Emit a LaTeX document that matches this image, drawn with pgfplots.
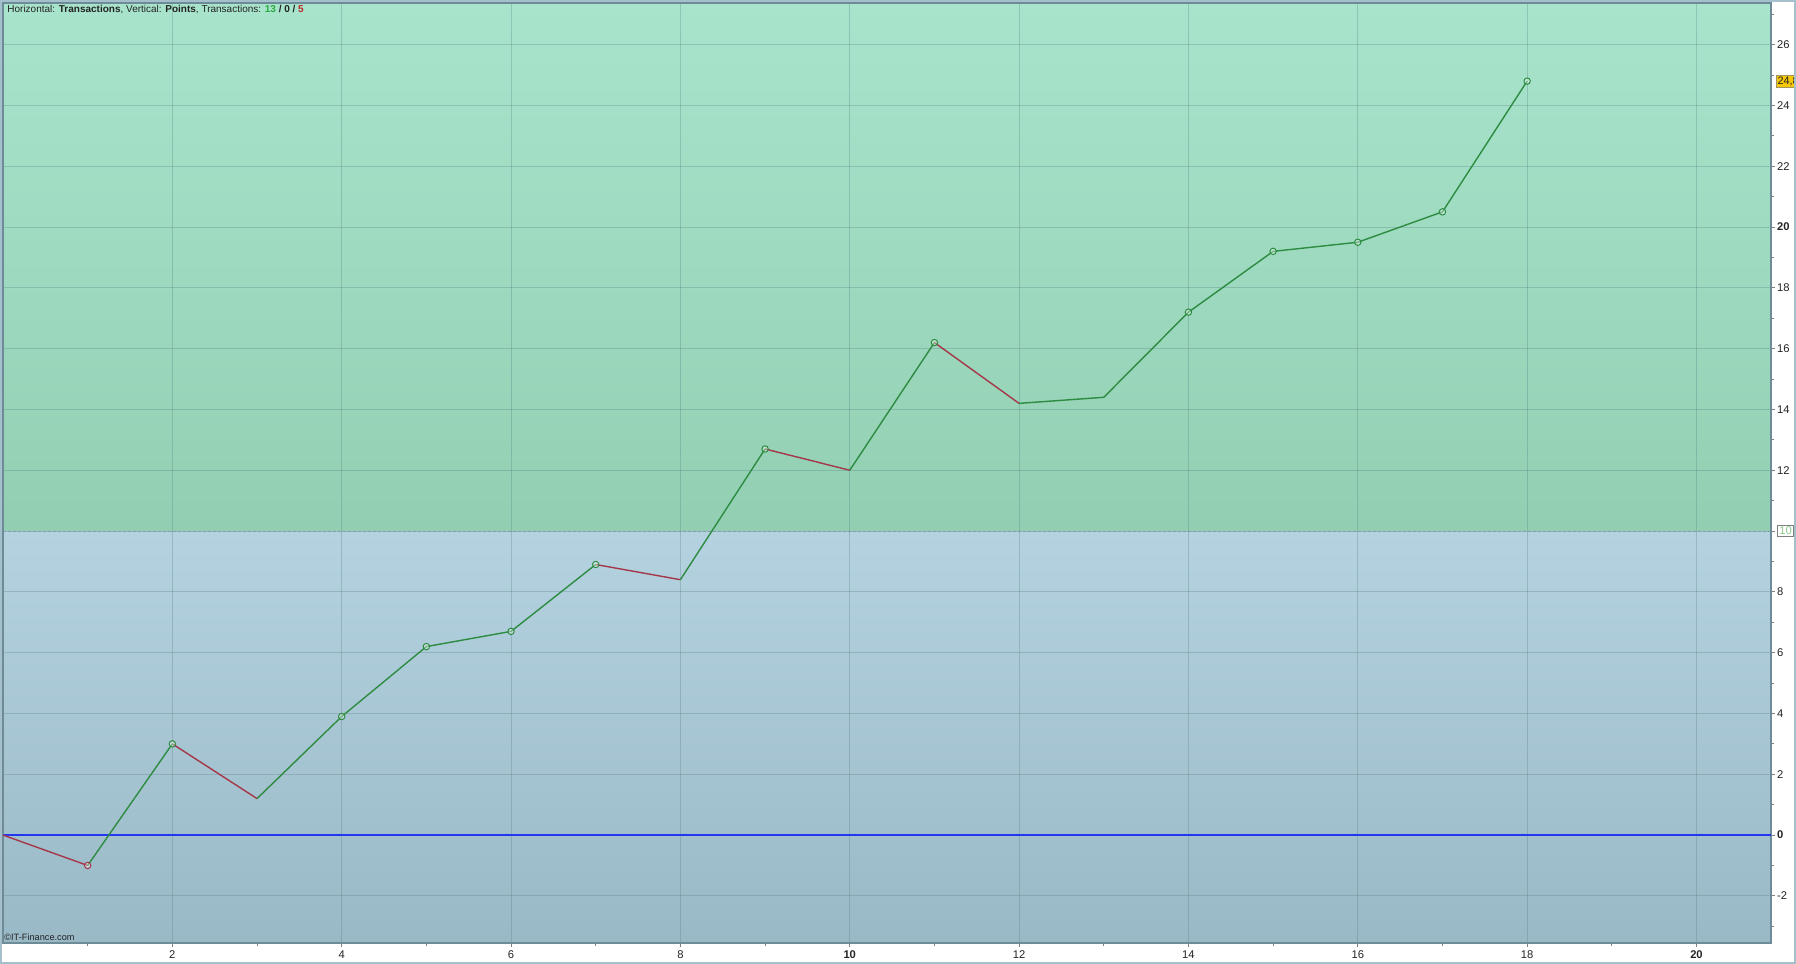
\documentclass[border=0pt]{standalone}
\usepackage{pgfplots}
\pgfplotsset{compat=1.18}
\usepackage{fontspec}
\setmainfont{Liberation Sans}
\definecolor{gtop}{RGB}{168,228,204}
\definecolor{gbot}{RGB}{146,207,178}
\definecolor{btop}{RGB}{180,210,223}
\definecolor{bbot}{RGB}{154,185,198}
\definecolor{gridc}{RGB}{80,115,125}
\definecolor{upc}{RGB}{45,140,65}
\definecolor{dnc}{RGB}{165,55,75}
\definecolor{framec}{RGB}{110,140,152}
\definecolor{borderc}{RGB}{165,192,205}
\definecolor{zeroc}{RGB}{35,55,240}
\definecolor{ticklab}{RGB}{35,35,35}
\definecolor{hgreen}{RGB}{40,170,60}
\definecolor{hred}{RGB}{190,40,40}
\definecolor{tenc}{RGB}{140,205,140}
\definecolor{yel}{RGB}{245,200,10}
\begin{document}
\begin{tikzpicture}
\path (0pt,0pt) rectangle (898pt,482pt);
\begin{axis}[
  set layers,
  clip mode=individual,
  at={(1.5pt,10.5pt)}, anchor=south west,
  scale only axis, width=884pt, height=470pt,
  xmin=0, xmax=20.88, ymin=-3.55, ymax=27.37,
  axis line style={framec, line width=0.6pt},
  xtick={2,4,...,20},
  xticklabels={2,4,6,8,\textbf{10},12,14,16,18,\textbf{20}},
  minor xtick={1,3,...,19},
  ytick={-2,0,...,26},
  yticklabels={-2,\textbf{0},2,4,6,8,{\setlength{\fboxsep}{0.7pt}\setlength{\fboxrule}{0.4pt}\fcolorbox{gray}{white}{\textcolor{tenc}{10}}},12,14,16,18,\textbf{20},22,24,26},
  minor ytick={-3,-1,...,27},
  xtick pos=bottom, ytick pos=right,
  yticklabel pos=right,
  tick align=outside,
  major tick length=2pt, minor tick length=1.5pt,
  tick style={gray, line width=0.4pt},
  grid=major,
  major grid style={gridc, opacity=0.28, line width=0.5pt},
  ticklabel style={font=\fontsize{5.6}{6.5}\selectfont, text=ticklab},
  xticklabel style={inner sep=0.8pt, yshift=-1pt},
  yticklabel style={inner sep=0.9pt},
  /pgf/number format/assume math mode=true,
]
\begin{pgfonlayer}{axis background}
\fill[bottom color=gbot, top color=gtop] (axis cs:0,10) rectangle (axis cs:20.88,27.37);
\fill[bottom color=bbot, top color=btop] (axis cs:0,-3.55) rectangle (axis cs:20.88,10);
\draw[gridc, opacity=0.35, line width=0.4pt, dash pattern=on 1.5pt off 1pt] (axis cs:0,10) -- (axis cs:20.88,10);
\end{pgfonlayer}
\addplot[zeroc, line width=0.65pt] coordinates {(0,0) (20.88,0)};
\addplot[dnc, line width=0.7pt] coordinates {(0,0) (1,-1.0)};
\addplot[dnc, line width=0.7pt] coordinates {(2,3.0) (3,1.2)};
\addplot[dnc, line width=0.7pt] coordinates {(7,8.9) (8,8.4)};
\addplot[dnc, line width=0.7pt] coordinates {(9,12.7) (10,12.0)};
\addplot[dnc, line width=0.7pt] coordinates {(11,16.2) (12,14.2)};
\addplot[upc, line width=0.7pt] coordinates {(1,-1.0) (2,3.0)};
\addplot[upc, line width=0.7pt] coordinates {(3,1.2) (4,3.9) (5,6.2) (6,6.7) (7,8.9)};
\addplot[upc, line width=0.7pt] coordinates {(8,8.4) (9,12.7)};
\addplot[upc, line width=0.7pt] coordinates {(10,12.0) (11,16.2)};
\addplot[upc, line width=0.7pt] coordinates {(12,14.2) (13,14.4) (14,17.2) (15,19.2) (16,19.5) (17,20.5) (18,24.8)};
\addplot[only marks, mark=*, mark size=1.6pt, mark options={draw=upc, line width=0.5pt, fill=white, fill opacity=0.35}] coordinates {
(2,3.0) (4,3.9) (5,6.2) (6,6.7) (7,8.9) (9,12.7) (11,16.2) (14,17.2) (15,19.2) (16,19.5) (17,20.5) (18,24.8)};
\addplot[only marks, mark=*, mark size=1.6pt, mark options={draw=dnc, line width=0.5pt, fill=white, fill opacity=0.35}] coordinates {(1,-1.0)};
\node[anchor=west, inner sep=0pt, font=\fontsize{5}{6}\selectfont, text=ticklab] at ([xshift=2pt, yshift=-3.2pt]rel axis cs:0,1)
  {Horizontal: \textbf{Transactions}, Vertical: \textbf{Points}, Transactions: \textcolor{hgreen}{\textbf{13}} \textbf{/ 0 /} \textcolor{hred}{\textbf{5}}};
\node[anchor=south west, inner sep=0pt, font=\fontsize{4.6}{5}\selectfont, text=ticklab] at ([xshift=0.5pt, yshift=1pt]rel axis cs:0,0) {\textcopyright IT-Finance.com};
\node[overlay, anchor=west, fill=yel, draw=gray!70!yel, line width=0.3pt, inner sep=0.7pt, font=\fontsize{5.4}{6}\selectfont, text=ticklab] at ([xshift=2.5pt]axis cs:20.88,24.8) {24,8};
\end{axis}
\draw[borderc, line width=1pt] (0.5pt,0.5pt) rectangle (897.5pt,481.5pt);
\end{tikzpicture}
\end{document}
